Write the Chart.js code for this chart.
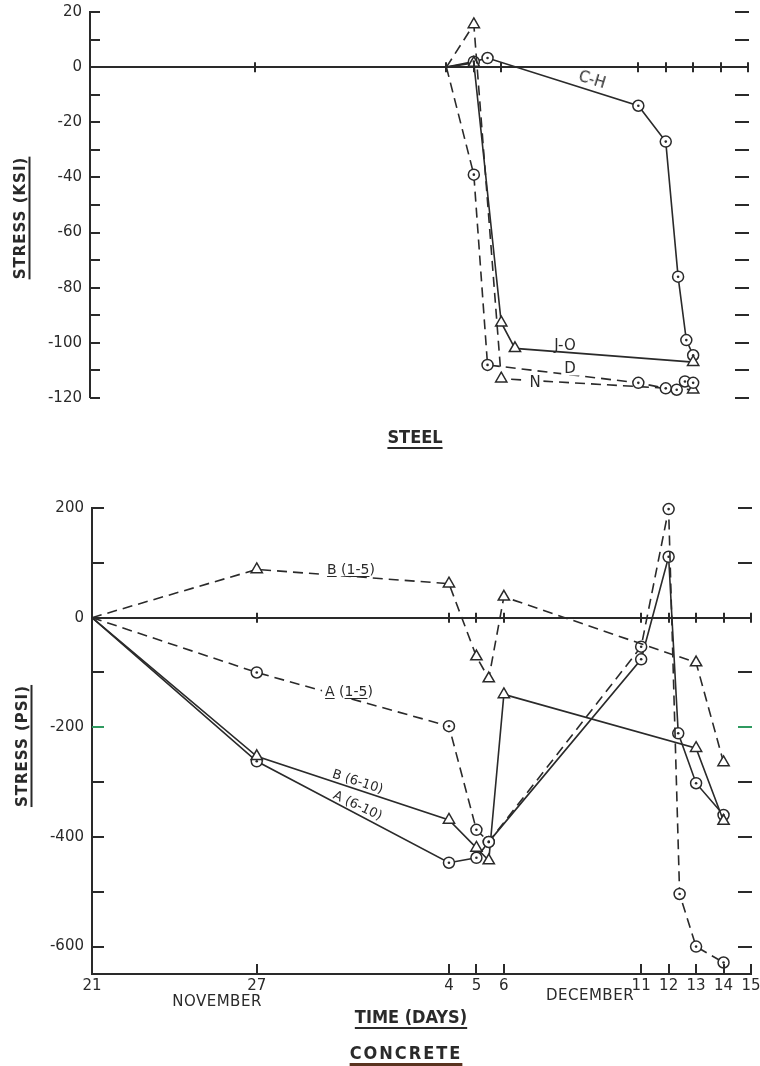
<!DOCTYPE html>
<html><head><meta charset="utf-8">
<script src="https://cdn.jsdelivr.net/npm/chart.js@4.4.1/dist/chart.umd.min.js"></script>
<style>
html,body{margin:0;padding:0;background:#fff;}
#wrap{position:relative;width:760px;height:1066px;overflow:hidden;font-family:"DejaVu Sans",sans-serif;color:#2a2a2a;}
canvas{position:absolute;left:0;}
.t{position:absolute;white-space:nowrap;line-height:1;transform:translate(-50%,-50%);}
.lab{font-size:14px;}
.bg{background:#fff;padding:0 3px;}
.title{font-family:"DejaVu Sans Condensed","DejaVu Sans",sans-serif;font-weight:bold;font-size:18px;text-decoration:underline;text-decoration-thickness:2px;text-underline-offset:4px;}
.ytitle{font-weight:bold;font-size:15px;letter-spacing:1px;text-decoration:underline;text-decoration-thickness:2px;text-underline-offset:4px;}
.month{font-size:15px;letter-spacing:0.5px;}
u{text-decoration-thickness:1px;text-underline-offset:2px;}
</style></head>
<body><div id="wrap">
<canvas id="steel" width="760" height="500" style="top:-30px"></canvas>
<canvas id="concrete" width="780" height="596" style="top:470px"></canvas>

<div class="t ytitle" style="left:20px;top:218px;transform:translate(-50%,-50%) rotate(-90deg)">STRESS (KSI)</div>
<div class="t ytitle" style="left:22px;top:746px;transform:translate(-50%,-50%) rotate(-90deg)">STRESS (PSI)</div>

<div class="t lab" style="left:592px;top:80px;font-size:15px;transform:translate(-50%,-50%) rotate(17deg)">C-H</div>
<div class="t lab" style="left:565px;top:345px;font-size:15px;">J-O</div>
<div class="t lab bg" style="left:570px;top:368px;font-size:15px;">D</div>
<div class="t lab bg" style="left:535px;top:382px;font-size:15px;">N</div>

<div class="t title" style="left:415px;top:437px;">STEEL</div>

<div class="t lab bg" style="left:351px;top:569px;"><u>B</u> (<u>1-5</u>)</div>
<div class="t lab bg" style="left:349px;top:691px;"><u>A</u> (<u>1-5</u>)</div>
<div class="t lab" style="left:358px;top:781px;font-size:13px;transform:translate(-50%,-50%) rotate(18deg)">B (6-10)</div>
<div class="t lab" style="left:358px;top:805px;font-size:13px;transform:translate(-50%,-50%) rotate(25deg)">A (6-10)</div>

<div class="t month" style="left:217px;top:1001px;">NOVEMBER</div>
<div class="t month" style="left:590px;top:995px;">DECEMBER</div>
<div class="t title" style="left:411px;top:1017px;">TIME (DAYS)</div>
<div class="t title" style="left:406px;top:1053px;letter-spacing:2px;text-decoration-color:#5a3320;text-decoration-thickness:3px;">CONCRETE</div>
</div>
<script>
// ---------- data (x = days after 21 November) ----------
const dayTicks = [0, 6, 13, 14, 15, 20, 21, 22, 23, 24];
const dayTickLabels = ['21', '27', '4', '5', '6', '11', '12', '13', '14', '15'];

const steelYTicks = [20, 10, 0, -10, -20, -30, -40, -50, -60, -70, -80, -90, -100, -110, -120];
const concreteYTicks = [200, 100, 0, -100, -200, -300, -400, -500, -600];

// STEEL (ksi)
const chDays = [13, 14, 14.5, 20, 21, 21.45, 21.75, 22];
const chVals = [0, 2, 3.3, -14, -27, -76, -99, -104.5];
const joDays = [13, 14, 15, 15.5, 22];
const joVals = [0, 1.5, -92.7, -102, -107];
const dDays = [13, 14, 14.5, 20, 21, 21.4, 21.7, 22];
const dVals = [0, -39, -108, -114.5, -116.5, -117, -114, -114.5];
const nDays = [13, 14, 15, 22];
const nVals = [0, 15.5, -113, -117];

// CONCRETE (psi)
const b15Days = [0, 6, 13, 14, 14.45, 15, 22, 23];
const b15Vals = [0, 88, 62, -71, -111, 38, -82, -264];
const a15Days = [0, 6, 13, 14, 14.45, 20, 21, 21.4, 22, 23];
const a15Vals = [0, -100, -198, -387, -409, -53, 198, -504, -600, -629];
const a610Days = [0, 6, 13, 14, 14.45, 20, 21, 21.35, 22, 23];
const a610Vals = [0, -262, -447, -438, -409, -76, 111, -211, -302, -360];
const b610Days = [0, 6, 13, 14, 14.45, 15, 22, 23];
const b610Vals = [0, -253, -369, -420, -443, -140, -238, -371];

// ---------- styling ----------
const INK = '#2a2a2a';
const DASH = [10, 6];
const pts = (xs, ys) => xs.map((x, i) => ({ x, y: ys[i] }));

function series(xs, ys, marker, dashed) {
  return {
    data: pts(xs, ys),
    borderColor: INK,
    borderWidth: 1.6,
    borderDash: dashed ? DASH : [],
    tension: 0,
    fill: false,
    clip: false,
    pointStyle: marker,
    pointRadius: ctx => ctx.dataIndex === 0 ? 0 : (marker === 'circle' ? 5.5 : 6.5),
    pointBorderWidth: 1.5,
    pointBorderColor: INK,
    pointBackgroundColor: '#fff',
  };
}

const inkPlugin = {
  id: 'ink',
  afterDatasetsDraw(chart) {
    const ctx = chart.ctx;
    ctx.save();
    ctx.fillStyle = INK;
    chart.data.datasets.forEach((ds, i) => {
      if (ds.pointStyle !== 'circle') return;
      chart.getDatasetMeta(i).data.forEach((p, j) => {
        if (j === 0) return;
        ctx.beginPath(); ctx.arc(p.x, p.y, 1.3, 0, Math.PI * 2); ctx.fill();
      });
    });
    ctx.restore();
  },
  afterDraw(chart, args, o) {
    const { ctx, chartArea: ca, scales: { x, y } } = chart;
    const ln = (x1, y1, x2, y2) => { ctx.beginPath(); ctx.moveTo(x1, y1); ctx.lineTo(x2, y2); ctx.stroke(); };
    ctx.save();
    ctx.strokeStyle = INK;
    ctx.lineWidth = 2;
    y.ticks.forEach(t => {
      const py = Math.round(y.getPixelForValue(t.value));
      ctx.strokeStyle = t.value === o.greenValue ? '#2f9a60' : INK;
      ln(ca.left, py, ca.left + o.leftLen, py);
      if (t.value !== 0) ln(ca.right - 13, py, ca.right + 1, py);
    });
    ctx.strokeStyle = INK;
    const py0 = y.getPixelForValue(0);
    dayTicks.slice(1).forEach(d => {
      const px = Math.round(x.getPixelForValue(d));
      ln(px, py0 - 5, px, py0 + 5);
      if (o.bottomTicks) ln(px, ca.bottom, px, ca.bottom - 10);
    });
    ctx.restore();
  }
};

function makeChart(id, datasets, yMin, yMax, yTicks, labelEvery, pad, yWidth, xVisible, extra) {
  return new Chart(document.getElementById(id), {
    type: 'line',
    data: { datasets },
    plugins: [inkPlugin],
    options: {
      responsive: false,
      animation: false,
      events: [],
      layout: { padding: pad },
      plugins: { legend: { display: false }, tooltip: { enabled: false }, ink: extra },
      scales: {
        x: {
          type: 'linear', min: 0, max: 24,
          display: xVisible,
          afterBuildTicks: s => { s.ticks = dayTicks.map(v => ({ value: v })); },
          afterFit: s => { s.height = xVisible ? 30 : 0; },
          grid: { display: true, drawOnChartArea: false, drawTicks: false },
          border: { display: true, color: INK, width: 2 },
          ticks: {
            autoSkip: false, maxRotation: 0, padding: 3, color: INK,
            font: { family: 'DejaVu Sans', size: 15 },
            callback: v => dayTickLabels[dayTicks.indexOf(v)] ?? ''
          }
        },
        y: {
          type: 'linear', min: yMin, max: yMax,
          afterBuildTicks: s => { s.ticks = yTicks.map(v => ({ value: v })); },
          afterFit: s => { s.width = yWidth; },
          grid: {
            drawTicks: false, drawOnChartArea: true,
            color: c => c.tick && c.tick.value === 0 ? INK : 'rgba(0,0,0,0)',
            lineWidth: c => c.tick && c.tick.value === 0 ? 2 : 0
          },
          border: { display: true, color: INK, width: 2 },
          ticks: {
            autoSkip: false, padding: 8, color: INK,
            font: { family: 'DejaVu Sans', size: 15 },
            callback: v => (v % labelEvery === 0 ? String(v) : '')
          }
        }
      }
    }
  });
}

makeChart('steel', [
  series(dDays, dVals, 'circle', true),
  series(nDays, nVals, 'triangle', true),
  series(joDays, joVals, 'triangle', false),
  series(chDays, chVals, 'circle', false),
], -120, 20, steelYTicks, 20, { left: 0, right: 12, top: 42, bottom: 72 }, 90, false,
  { leftLen: 10, bottomTicks: false, greenValue: null });

makeChart('concrete', [
  series(b15Days, b15Vals, 'triangle', true),
  series(a15Days, a15Vals, 'circle', true),
  series(b610Days, b610Vals, 'triangle', false),
  series(a610Days, a610Vals, 'circle', false),
], -650, 200, concreteYTicks, 200, { left: 0, right: 29, top: 38, bottom: 62 }, 92, true,
  { leftLen: 12, bottomTicks: true, greenValue: -200 });
</script>
</body></html>
